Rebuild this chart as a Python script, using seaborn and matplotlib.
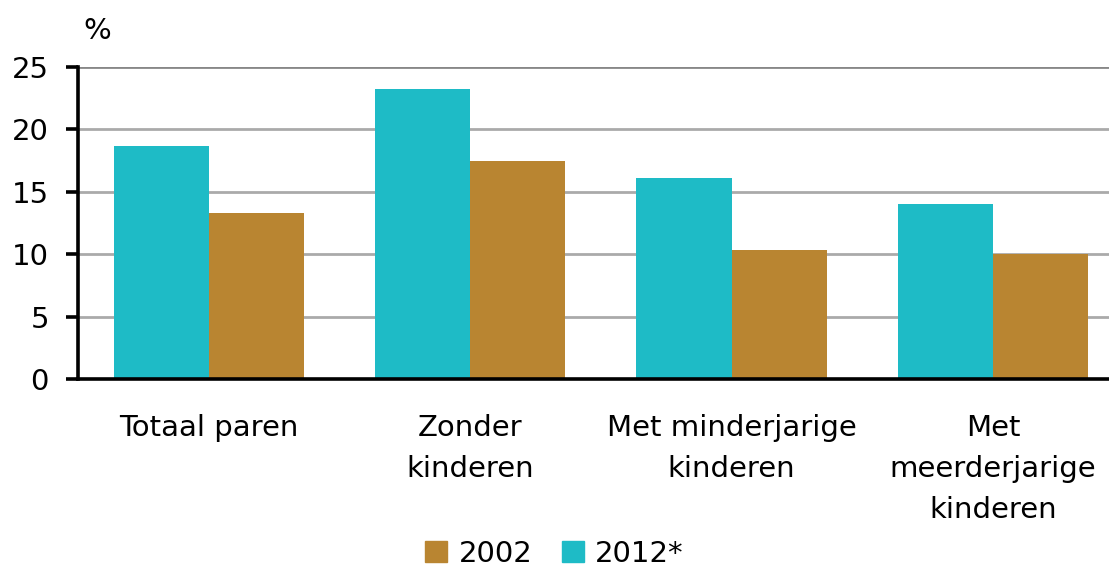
import pandas as pd
import seaborn as sns
import matplotlib.pyplot as plt
from matplotlib.patches import Patch

categories = ['Totaal paren', 'Zonder\nkinderen', 'Met minderjarige\nkinderen', 'Met\nmeerderjarige\nkinderen']
vals_2012 = [18.7, 23.2, 16.1, 14.0]
vals_2002 = [13.3, 17.5, 10.3, 10.0]
years = ['2012*', '2002']
colors = {'2012*': '#1EBBC6', '2002': '#B98531'}

df = pd.DataFrame({
    'cat': categories * 2,
    'jaar': ['2012*'] * 4 + ['2002'] * 4,
    'pct': vals_2012 + vals_2002,
})

sns.set_style('white')
plt.rcParams['font.family'] = ['DejaVu Sans']
plt.rcParams['text.color'] = 'black'
plt.rcParams['xtick.color'] = 'black'
plt.rcParams['ytick.color'] = 'black'

fig = plt.figure(figsize=(11.09, 5.66), dpi=100)
ax = fig.add_axes([0.0703, 0.3304, 0.9297, 0.5512])

sns.barplot(data=df, x='cat', y='pct', hue='jaar', hue_order=years,
            palette=colors, width=0.727, saturation=1, linewidth=0,
            ax=ax, legend=False, zorder=3)

ax.set_ylim(0, 25)
ax.set_xlim(-0.5, 3.444)
ax.set_yticks([0, 5, 10, 15, 20, 25])
for v in [5, 10, 15, 20]:
    ax.axhline(v, color='#aaaaaa', lw=2.0, zorder=1)
ax.axhline(25, color='#888888', lw=2.0, zorder=1)

for s in ['top', 'right']:
    ax.spines[s].set_visible(False)
for s in ['left', 'bottom']:
    ax.spines[s].set_linewidth(2.6)
    ax.spines[s].set_color('black')
    ax.spines[s].set_zorder(4)

ax.tick_params(axis='y', length=9, width=2.6, direction='out', pad=12, labelsize=21, left=True)
ax.tick_params(axis='x', length=0, pad=25, labelsize=21)
for lbl in ax.get_xticklabels():
    lbl.set_linespacing(1.6)
    lbl.set_verticalalignment('top')
ax.set_xlabel('')
ax.set_ylabel('')
fig.text(0.088, 0.945, '%', fontsize=21, ha='center', va='center')

handles = [Patch(color=colors['2002'], label='2002'), Patch(color=colors['2012*'], label='2012*')]
fig.legend(handles=handles, loc='center', bbox_to_anchor=(0.5, 0.022), ncol=2, frameon=False,
           fontsize=21, handlelength=0.75, handleheight=0.75, handletextpad=0.4, columnspacing=1.0)

fig.savefig('out.png', dpi=100)
